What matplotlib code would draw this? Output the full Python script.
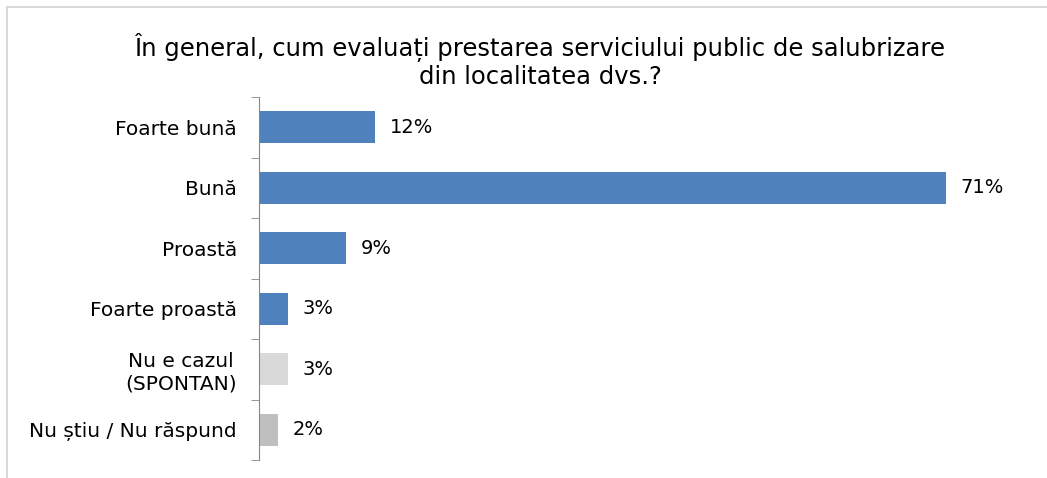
import matplotlib
matplotlib.use("Agg")
import matplotlib.pyplot as plt
from matplotlib.patches import Rectangle

# data
CATEGORIES = ["Foarte bună", "Bună", "Proastă", "Foarte proastă",
              "Nu e cazul\n(SPONTAN)", "Nu știu / Nu răspund"]
VALUES = [12, 71, 9, 3, 3, 2]
COLORS = ["#4F81BD", "#4F81BD", "#4F81BD", "#4F81BD", "#D9D9D9", "#BFBFBF"]
TITLE = "În general, cum evaluați prestarea serviciului public de salubrizare\ndin localitatea dvs.?"

plt.rcParams["font.family"] = ["DejaVu Sans"]

W, H = 1047, 478
fig = plt.figure(figsize=(W / 100, H / 100), dpi=100)

# light frame around the chart area
fig.patches.append(Rectangle((7 / W, -0.1), 1.2, (H - 7) / H + 0.1,
                             transform=fig.transFigure, fill=False,
                             edgecolor="#D9D9D9", lw=1.5))

x0, x1 = 259, 1033
y_top, y_bot = 97, 460
ax = fig.add_axes([x0 / W, 1 - y_bot / H, (x1 - x0) / W, (y_bot - y_top) / H])

n = len(CATEGORIES)
ys = list(range(n))
ax.barh(ys, VALUES, height=0.53, color=COLORS)
ax.set_ylim(n - 0.5, -0.5)
ax.set_xlim(0, 80)

for y, v in zip(ys, VALUES):
    ax.text(v + 1.5, y, f"{v}%", va="center", ha="left", fontsize=14, color="black")

for s in ["top", "right", "bottom"]:
    ax.spines[s].set_visible(False)
ax.spines["left"].set_color("#868686")
ax.set_xticks([])
ax.set_yticks(ys)
ax.set_yticklabels(CATEGORIES, fontsize=14.5)
ax.tick_params(axis="y", length=0, pad=16)
ax.set_yticks([i - 0.5 for i in range(n + 1)], minor=True)
ax.tick_params(axis="y", which="minor", length=6, color="#868686", direction="out")
for lab in ax.get_yticklabels():
    lab.set_horizontalalignment("right")
    lab.set_multialignment("center")

fig.text(540 / W, 1 - 61 / H, TITLE, ha="center", va="center",
         fontsize=17.5, linespacing=1.2)

fig.savefig("out.png", dpi=100)
